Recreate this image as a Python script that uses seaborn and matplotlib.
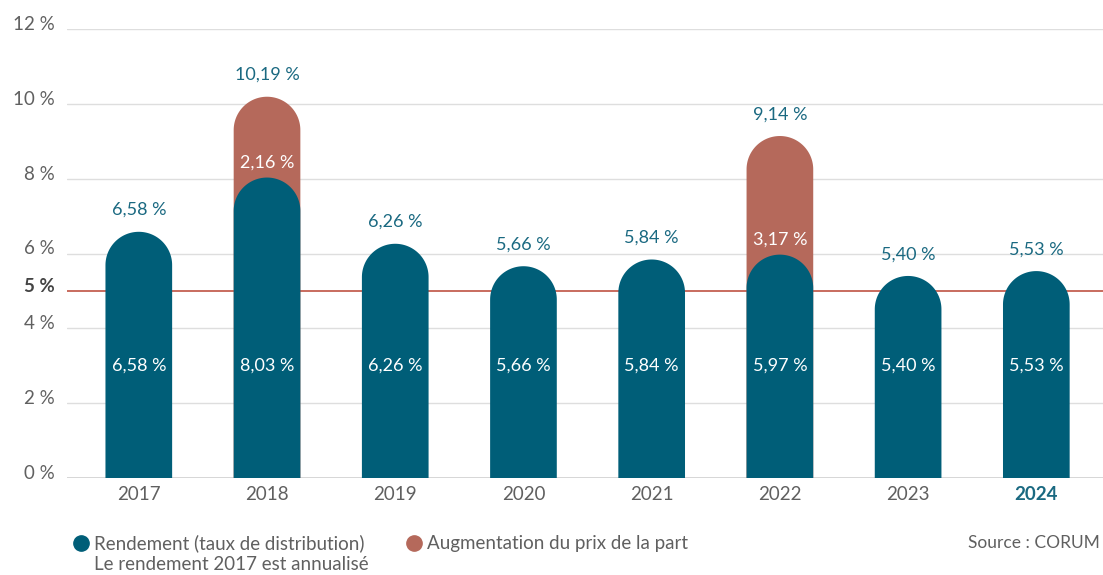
import numpy as np
import pandas as pd
import matplotlib
matplotlib.use("Agg")
import matplotlib.pyplot as plt
import seaborn as sns
from matplotlib.patches import Polygon
from matplotlib.lines import Line2D
from matplotlib.transforms import ScaledTranslation

years = ["2017", "2018", "2019", "2020", "2021", "2022", "2023", "2024"]
rendement = [6.58, 8.03, 6.26, 5.66, 5.84, 5.97, 5.40, 5.53]
augmentation = [0.0, 2.16, 0.0, 0.0, 0.0, 3.17, 0.0, 0.0]
totals = [6.58, 10.19, 6.26, 5.66, 5.84, 9.14, 5.40, 5.53]
yticks = [0, 2, 4, 5, 6, 8, 10, 12]
ytick_labels = ["0 %", "2 %", "4 %", "5 %", "6 %", "8 %", "10 %", "12 %"]
legend_labels = ["Rendement (taux de distribution)", "Augmentation du prix de la part"]
note = "Le rendement 2017 est annualisé"
source = "Source : CORUM"

BLUE = "#005e78"
RED = "#b5695b"
LABEL_BLUE = "#1a6981"
GRAY = "#606060"
GRID = "#dedede"
LINE5 = "#c86b5e"

sns.set_theme(style="white")
plt.rcParams["font.family"] = ["Lato", "DejaVu Sans"]

fig = plt.figure(figsize=(11.03, 5.75), dpi=100)
ax = fig.add_axes([67 / 1103, (575 - 478) / 575, 1 - 67 / 1103, (478 - 29) / 575])

df = pd.DataFrame({"year": years, "rendement": rendement, "total": totals, "aug": augmentation})

sns.barplot(data=df, x="year", y="total", color=RED, width=0.52, saturation=1,
            errorbar=None, ax=ax, order=years)
sns.barplot(data=df, x="year", y="rendement", color=BLUE, width=0.52, saturation=1,
            errorbar=None, ax=ax, order=years)

ax.set_xlim(-0.56, 7.52)
ax.set_ylim(0, 12)

# gridlines
for g in [2, 4, 6, 8, 10, 12]:
    ax.axhline(g, color=GRID, lw=1.0, zorder=0)
ax.axhline(0, color="#cfcfcf", lw=1.2, zorder=0)
ax.axhline(5, color=LINE5, lw=1.4, zorder=0.5)

fig.canvas.draw()
bbox = ax.get_window_extent()
xl = ax.get_xlim(); yl = ax.get_ylim()
sx = bbox.width / (xl[1] - xl[0])
sy = bbox.height / (yl[1] - yl[0])

patches = list(ax.patches)
n = len(years)
for i, p in enumerate(patches):
    x = p.get_x(); w = p.get_width(); h = p.get_height()
    fc = p.get_facecolor()
    p.set_visible(False)
    is_red = i < n
    if is_red and augmentation[i] <= 0:
        continue
    r_px = w * sx / 2
    ry = r_px / sy
    cx = x + w / 2
    t = np.linspace(0, np.pi, 80)
    arc = np.column_stack([cx + (w / 2) * np.cos(t), h - ry + ry * np.sin(t)])
    verts = [(x + w, 0)] + arc.tolist() + [(x, 0)]
    poly = Polygon(verts, closed=True, facecolor=fc, edgecolor="none",
                   zorder=2 if is_red else 3)
    ax.add_patch(poly)

def fmt(v):
    return f"{v:.2f}".replace(".", ",") + " %"

VS = 13
for i in range(n):
    ax.text(i, totals[i] + 0.58, fmt(totals[i]), ha="center", va="center",
            color=LABEL_BLUE, fontsize=VS, zorder=5)
    ax.text(i, 3.0, fmt(rendement[i]), ha="center", va="center",
            color="white", fontsize=VS, zorder=5)
    if augmentation[i] > 0:
        ax.text(i, rendement[i] + 0.4, fmt(augmentation[i]), ha="center", va="center",
                color="white", fontsize=VS, zorder=5)

ax.set_xlabel("")
ax.set_ylabel("")
ax.set_yticks(yticks)
ax.set_yticklabels(ytick_labels)
ax.tick_params(axis="both", length=0, labelsize=13.5, colors=GRAY)
ax.tick_params(axis="y", pad=9)
ax.tick_params(axis="x", pad=6)
off = ScaledTranslation(0, 6 / 100, fig.dpi_scale_trans)
for lab in ax.get_yticklabels():
    lab.set_transform(lab.get_transform() + off)
    if lab.get_text() == "5 %":
        lab.set_fontweight("bold")
        lab.set_color("#444444")
for lab in ax.get_xticklabels():
    if lab.get_text() == "2024":
        lab.set_fontweight("bold")
        lab.set_color(LABEL_BLUE)
for s in ax.spines.values():
    s.set_visible(False)
ax.grid(False)

# legend
def fx(px):
    return px / 1103
def fy(py):
    return 1 - py / 575

LS = 13.5
fig.add_artist(Line2D([fx(81)], [fy(543)], marker="o", markersize=11, color=BLUE,
                      transform=fig.transFigure, linestyle="none"))
fig.text(fx(94), fy(543), legend_labels[0], ha="left", va="center", color=GRAY, fontsize=LS)
fig.text(fx(94), fy(565), note, ha="left", va="center", color=GRAY, fontsize=LS)
fig.add_artist(Line2D([fx(414)], [fy(543)], marker="o", markersize=11, color=RED,
                      transform=fig.transFigure, linestyle="none"))
fig.text(fx(427), fy(543), legend_labels[1], ha="left", va="center", color=GRAY, fontsize=LS)
fig.text(fx(1100), fy(543), source, ha="right", va="center", color=GRAY, fontsize=12.5)

fig.savefig("out.png", dpi=100)
